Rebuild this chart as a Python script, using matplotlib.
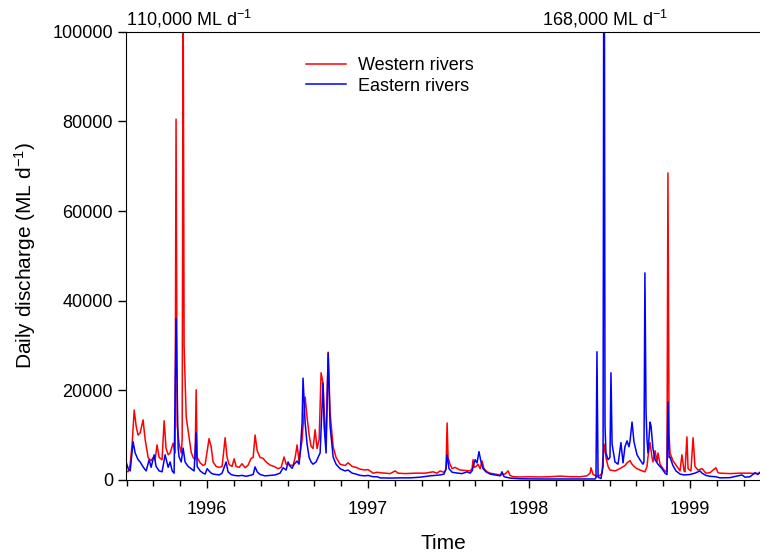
import numpy as np
import matplotlib.pyplot as plt
from matplotlib.ticker import MultipleLocator, FixedLocator

plt.rcParams['font.family'] = ['Liberation Sans', 'DejaVu Sans']
plt.rcParams['mathtext.fontset'] = 'custom'
plt.rcParams['mathtext.rm'] = 'Liberation Sans'

# time as decimal years, discharge in ML/d
west_t = [
    1995.497, 1995.509, 1995.522, 1995.534, 1995.547, 1995.559, 1995.571, 1995.584,
    1995.602, 1995.615, 1995.634, 1995.652, 1995.665, 1995.677, 1995.689, 1995.702,
    1995.720, 1995.733, 1995.745, 1995.758, 1995.770, 1995.789, 1995.801, 1995.807,
    1995.814, 1995.826, 1995.839, 1995.845, 1995.851, 1995.857, 1995.870, 1995.882,
    1995.901, 1995.913, 1995.925, 1995.932, 1995.938, 1995.957, 1995.975, 1995.988,
    1996.012, 1996.025, 1996.037, 1996.056, 1996.075, 1996.093, 1996.112, 1996.124,
    1996.137, 1996.155, 1996.168, 1996.180, 1996.199, 1996.217, 1996.236, 1996.255,
    1996.273, 1996.286, 1996.298, 1996.311, 1996.329, 1996.348, 1996.366, 1996.391,
    1996.416, 1996.441, 1996.460, 1996.478, 1996.491, 1996.516, 1996.534, 1996.547,
    1996.559, 1996.571, 1996.590, 1996.609, 1996.621, 1996.634, 1996.646, 1996.658,
    1996.671, 1996.683, 1996.696, 1996.708, 1996.720, 1996.733, 1996.739, 1996.752,
    1996.764, 1996.783, 1996.801, 1996.826, 1996.857, 1996.876, 1996.901, 1996.925,
    1996.950, 1996.981, 1997.000, 1997.031, 1997.056, 1997.075, 1997.106, 1997.137,
    1997.168, 1997.186, 1997.230, 1997.292, 1997.354, 1997.404, 1997.429, 1997.447,
    1997.472, 1997.484, 1997.491, 1997.497, 1997.509, 1997.522, 1997.540, 1997.571,
    1997.602, 1997.634, 1997.646, 1997.652, 1997.658, 1997.671, 1997.683, 1997.696,
    1997.708, 1997.720, 1997.739, 1997.758, 1997.789, 1997.820, 1997.851, 1997.870,
    1997.882, 1997.901, 1997.944, 1998.006, 1998.068, 1998.130, 1998.193, 1998.255,
    1998.317, 1998.360, 1998.379, 1998.385, 1998.398, 1998.422, 1998.441, 1998.453,
    1998.466, 1998.478, 1998.491, 1998.503, 1998.534, 1998.553, 1998.578, 1998.596,
    1998.609, 1998.627, 1998.640, 1998.652, 1998.671, 1998.689, 1998.720, 1998.733,
    1998.739, 1998.752, 1998.764, 1998.770, 1998.783, 1998.795, 1998.801, 1998.814,
    1998.832, 1998.845, 1998.857, 1998.863, 1998.870, 1998.876, 1998.894, 1998.913,
    1998.938, 1998.950, 1998.963, 1998.969, 1998.981, 1998.988, 1999.006, 1999.019,
    1999.031, 1999.050, 1999.075, 1999.099, 1999.124, 1999.161, 1999.174, 1999.186,
    1999.248, 1999.311, 1999.373, 1999.404, 1999.435,
]
west_q = [
    2000, 1800, 3500, 8000, 15600, 12000, 10000, 10500,
    13400, 9000, 4900, 4300, 5000, 4500, 7800, 5000,
    4500, 13200, 7000, 5600, 6000, 8200, 6000, 80500,
    12000, 8000, 6000, 9000, 110000, 30000, 14000, 11000,
    6200, 5000, 4500, 20100, 5000, 3800, 3200, 3500,
    9200, 7400, 4000, 3000, 2800, 3000, 9400, 5000,
    3400, 3000, 4700, 3000, 2800, 3600, 2700, 3300,
    4800, 5000, 10000, 6500, 5000, 4800, 4000, 3300,
    3000, 2500, 2800, 5100, 3500, 3300, 3200, 5000,
    7800, 4200, 8900, 18500, 14000, 10000, 7500, 7000,
    11200, 7000, 9000, 23900, 21600, 11000, 9000, 28500,
    15000, 7400, 5000, 3500, 3200, 3800, 3000, 2800,
    2400, 2200, 2300, 1500, 1700, 1600, 1500, 1400,
    2000, 1500, 1400, 1500, 1500, 1800, 1500, 2000,
    1700, 2300, 12700, 5000, 3500, 2500, 2800, 2200,
    2100, 2000, 2500, 4500, 2800, 3000, 3500, 2500,
    4200, 2500, 1800, 1500, 1300, 1100, 1300, 2000,
    1000, 700, 650, 700, 650, 700, 850, 700,
    700, 900, 1500, 2700, 1200, 800, 1000, 1500,
    8000, 5000, 3000, 2200, 2000, 2300, 2800, 3200,
    3800, 4300, 3500, 3000, 2500, 2200, 1800, 3000,
    5100, 8300, 5000, 4000, 6500, 4000, 6000, 3500,
    2500, 2000, 1800, 68500, 10000, 6000, 4300, 3300,
    2000, 5600, 2000, 1800, 9600, 2500, 2000, 9400,
    3000, 2200, 2500, 1500, 1600, 2700, 1600, 1500,
    1400, 1500, 1500, 1400, 1500,
]

east_t = [
    1995.497, 1995.509, 1995.522, 1995.540, 1995.553, 1995.571, 1995.584, 1995.602,
    1995.621, 1995.640, 1995.652, 1995.671, 1995.683, 1995.702, 1995.720, 1995.739,
    1995.758, 1995.770, 1995.783, 1995.795, 1995.807, 1995.820, 1995.826, 1995.839,
    1995.851, 1995.863, 1995.882, 1995.901, 1995.919, 1995.932, 1995.938, 1995.957,
    1995.975, 1995.988, 1996.000, 1996.012, 1996.025, 1996.037, 1996.056, 1996.075,
    1996.093, 1996.118, 1996.130, 1996.149, 1996.168, 1996.193, 1996.217, 1996.242,
    1996.267, 1996.286, 1996.298, 1996.311, 1996.329, 1996.360, 1996.391, 1996.422,
    1996.453, 1996.472, 1996.491, 1996.503, 1996.516, 1996.528, 1996.540, 1996.559,
    1996.571, 1996.578, 1996.590, 1996.596, 1996.609, 1996.621, 1996.634, 1996.646,
    1996.658, 1996.677, 1996.689, 1996.702, 1996.708, 1996.720, 1996.727, 1996.739,
    1996.752, 1996.764, 1996.783, 1996.801, 1996.826, 1996.857, 1996.876, 1996.901,
    1996.925, 1996.950, 1996.981, 1997.000, 1997.031, 1997.056, 1997.075, 1997.137,
    1997.199, 1997.261, 1997.323, 1997.385, 1997.447, 1997.472, 1997.484, 1997.491,
    1997.503, 1997.522, 1997.559, 1997.584, 1997.615, 1997.634, 1997.646, 1997.665,
    1997.677, 1997.689, 1997.702, 1997.714, 1997.733, 1997.758, 1997.789, 1997.820,
    1997.832, 1997.845, 1997.882, 1997.944, 1998.068, 1998.193, 1998.317, 1998.410,
    1998.416, 1998.422, 1998.429, 1998.447, 1998.460, 1998.466, 1998.472, 1998.478,
    1998.491, 1998.503, 1998.509, 1998.516, 1998.534, 1998.553, 1998.571, 1998.584,
    1998.596, 1998.609, 1998.621, 1998.627, 1998.640, 1998.652, 1998.671, 1998.689,
    1998.708, 1998.714, 1998.720, 1998.727, 1998.733, 1998.739, 1998.752, 1998.758,
    1998.770, 1998.783, 1998.801, 1998.826, 1998.845, 1998.857, 1998.863, 1998.870,
    1998.876, 1998.894, 1998.913, 1998.938, 1998.963, 1999.000, 1999.031, 1999.062,
    1999.075, 1999.099, 1999.124, 1999.161, 1999.186, 1999.248, 1999.323, 1999.342,
    1999.373, 1999.404, 1999.422, 1999.435,
]
east_q = [
    4000, 2500, 2000, 8500, 6000, 4500, 4000, 2900,
    2000, 4500, 2800, 5600, 3000, 2000, 1800, 5600,
    2800, 4000, 2000, 1500, 36000, 7000, 5100, 4000,
    7100, 4000, 3000, 2500, 2000, 10500, 3000, 2000,
    1500, 1300, 2500, 2000, 1500, 1300, 1200, 1100,
    1500, 4000, 1800, 1200, 1000, 900, 1000, 800,
    1000, 1200, 2900, 1800, 1200, 900, 1000, 1100,
    1500, 2700, 2200, 4000, 3000, 2600, 3500, 4200,
    3500, 6000, 12700, 22700, 12700, 8000, 5000, 4000,
    3500, 4000, 5000, 6000, 11200, 21600, 12000, 6000,
    28300, 12000, 5100, 3500, 2500, 2000, 2200, 1500,
    1300, 1000, 900, 1000, 700, 700, 450, 400,
    450, 450, 600, 900, 1100, 1300, 2500, 5600,
    2500, 1700, 1500, 1400, 1800, 1500, 2000, 4500,
    3800, 6300, 4000, 2500, 1800, 1300, 1100, 900,
    1800, 700, 400, 250, 200, 200, 200, 200,
    500, 28600, 600, 300, 3000, 168000, 12000, 6000,
    4500, 5000, 23900, 8000, 4000, 3500, 8300, 3800,
    7400, 8700, 7400, 8500, 12900, 8500, 5600, 4500,
    3500, 4000, 46200, 15000, 9000, 6000, 12900, 12000,
    7000, 4500, 3500, 2500, 1500, 1200, 17400, 5000,
    5100, 3200, 2000, 1300, 1100, 1200, 1500, 2000,
    1500, 1000, 800, 700, 450, 500, 1100, 600,
    700, 1600, 1200, 1700,
]

year_ticks = [1996, 1997, 1998, 1999]
peak_notes = [(1995.885, '110,000 ML d$\\mathregular{^{-1}}$'),
              (1998.47, '168,000 ML d$\\mathregular{^{-1}}$')]

fig = plt.figure(figsize=(7.6, 5.58), dpi=100)
ax = fig.add_axes([0.166, 0.14, 0.834, 0.803])

ax.plot(west_t, west_q, color='#ff0000', lw=1.1, label='Western rivers')
ax.plot(east_t, east_q, color='#0000ff', lw=1.1, label='Eastern rivers')

ax.set_xlim(1995.497, 1999.435)
ax.set_ylim(0, 100000)

ax.xaxis.set_major_locator(FixedLocator(year_ticks))
ax.set_xticklabels([str(y) for y in year_ticks])
ax.xaxis.set_minor_locator(MultipleLocator(1 / 6))
ax.yaxis.set_major_locator(MultipleLocator(20000))
ax.ticklabel_format(axis='y', style='plain')

ax.tick_params(axis='both', which='major', direction='out', length=6, width=1,
               labelsize=13, top=False, right=False)
ax.tick_params(axis='x', which='major', pad=9)
ax.tick_params(axis='x', which='minor', direction='out', length=4, width=1,
               top=False)
ax.spines['right'].set_visible(False)

ax.set_xlabel('Time', fontsize=15, labelpad=12)
ax.set_ylabel('Daily discharge (ML d$\\mathregular{^{-1}}$)', fontsize=15, labelpad=10)

for xt, txt in peak_notes:
    ax.text(xt, 1.005, txt, transform=ax.get_xaxis_transform(),
            ha='center', va='bottom', fontsize=13)

ax.legend(loc='upper left', bbox_to_anchor=(0.258, 0.98), frameon=False,
          fontsize=13, handlelength=2.2, labelspacing=0.2, handletextpad=0.7)

fig.savefig('out.png', dpi=100)
